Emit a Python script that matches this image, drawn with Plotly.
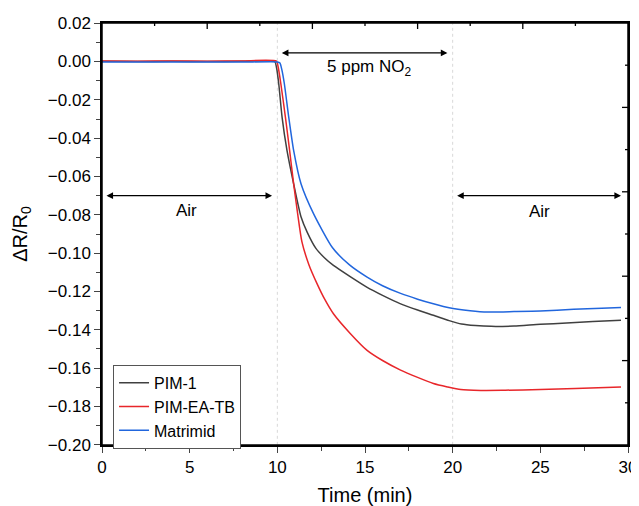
import plotly.graph_objects as go

# ---- data ----
pim1_t = [0, 2, 4, 6, 8, 9.85, 9.95, 10.08, 10.27, 10.55, 10.93, 11.35, 11.7, 12.2, 12.7, 13.2, 14.2,
          15.1, 16.0, 17.0, 18.0, 18.9, 19.8, 20.5, 21.3, 22.2, 23.5, 25.0, 26.5, 28.0, 29.6]
pim1_v = [0.0002, 0.0, 0.0001, 0.0, 0.0001, 0.0, -0.003, -0.0116, -0.029, -0.0464, -0.0638, -0.081,
          -0.089, -0.0975, -0.1025, -0.1064, -0.1125, -0.1177, -0.122, -0.1263, -0.1297, -0.1324,
          -0.1352, -0.137, -0.1378, -0.1382, -0.138, -0.1371, -0.1365, -0.1357, -0.135]

eatb_t = [0, 2, 4, 6, 8, 9.95, 10.05, 10.2, 10.46, 10.7, 10.93, 11.16, 11.4, 11.8, 12.27, 12.7,
          13.2, 14.17, 15.12, 16.0, 17.03, 18.0, 18.9, 19.7, 20.46, 21.6, 23.0, 25.0, 27.0, 29.6]
eatb_v = [0.0003, 0.0002, 0.0003, 0.0002, 0.0003, 0.0002, -0.003, -0.0116, -0.029, -0.0464, -0.0638,
          -0.0795, -0.094, -0.106, -0.116, -0.124, -0.1316, -0.142, -0.1507, -0.156, -0.161, -0.1648,
          -0.168, -0.1698, -0.1712, -0.1716, -0.1715, -0.1712, -0.1706, -0.1698]

matr_t = [0, 2, 4, 6, 8, 10.0, 10.15, 10.25, 10.4, 10.65, 10.93, 11.35, 12.07, 13.15, 14.1, 15.12,
          16.0, 17.03, 18.0, 18.9, 19.8, 21.0, 22.0, 23.5, 25.0, 26.9, 28.5, 29.6]
matr_v = [-0.0003, -0.0002, -0.0003, -0.0002, -0.0003, -0.0002, -0.0008, -0.004, -0.0116, -0.029,
          -0.0464, -0.0638, -0.0795, -0.0972, -0.106, -0.1125, -0.117, -0.121, -0.124, -0.1264,
          -0.1285, -0.130, -0.1307, -0.1305, -0.1302, -0.1293, -0.1288, -0.1284]

series_names = ["PIM-1", "PIM-EA-TB", "Matrimid"]
series_colors = ["#404040", "#e8262a", "#2166dd"]

x_ticks = [0, 5, 10, 15, 20, 25, 30]
y_ticks = [0.02, 0.00, -0.02, -0.04, -0.06, -0.08, -0.10, -0.12, -0.14, -0.16, -0.18, -0.20]

# top / right frame: 10 equal divisions, long ticks on even divisions
frame_divisions = 10

FONT = "Liberation Sans, Arial, sans-serif"

fig = go.Figure()
for t, v, name, col in zip([pim1_t, eatb_t, matr_t], [pim1_v, eatb_v, matr_v], series_names, series_colors):
    fig.add_trace(go.Scatter(x=t, y=v, mode="lines", name=name,
                             line=dict(color=col, width=1.5, shape="spline", smoothing=0.6)))

# faint dotted dividers
for xv in [10, 20]:
    fig.add_shape(type="line", x0=xv, x1=xv, y0=min(y_ticks), y1=max(y_ticks), xref="x", yref="y",
                  line=dict(color="#d8d8d8", width=1, dash="dot"), layer="below")

# frame box
fig.add_shape(type="rect", xref="paper", yref="paper", x0=0, x1=1, y0=0, y1=1,
              line=dict(color="black", width=1.5), layer="above")

# inside ticks on top and right edges
for i in range(1, frame_divisions):
    f = i / frame_divisions
    ln = 6 if i % 2 == 0 else 3
    fig.add_shape(type="line", xref="paper", yref="paper", ysizemode="pixel", yanchor=1,
                  x0=f, x1=f, y0=0, y1=-ln, line=dict(color="black", width=1.3))
    fig.add_shape(type="line", xref="paper", yref="paper", xsizemode="pixel", xanchor=1,
                  y0=f, y1=f, x0=0, x1=-ln, line=dict(color="black", width=1.3))

# double-headed arrows
arrows = [(0.17, 9.7, -0.07), (10.17, 19.7, 0.0045), (20.17, 29.6, -0.07)]
for x0, x1, yv in arrows:
    fig.add_annotation(x=x1, y=yv, ax=x0, ay=yv, xref="x", yref="y", axref="x", ayref="y",
                       text="", showarrow=True, arrowhead=2, arrowside="end+start",
                       arrowsize=1.1, arrowwidth=1.2, arrowcolor="black")

labels = [(4.8, -0.0777, "Air"), (15.2, -0.0036, "5 ppm NO<sub>2</sub>"), (24.97, -0.078, "Air")]
for xv, yv, txt in labels:
    fig.add_annotation(x=xv, y=yv, xref="x", yref="y", text=txt, showarrow=False,
                       font=dict(family=FONT, size=17, color="black"))

# page body has an 8px margin: figure is sized/margined so the plot area lands where the reference has it
fig.update_layout(
    width=639, height=498,
    margin=dict(l=94, r=19, t=15, b=61, autoexpand=False),
    paper_bgcolor="white", plot_bgcolor="white",
    font=dict(family=FONT, size=16, color="black"),
    showlegend=True,
    legend=dict(x=0.021, y=0.19, xanchor="left", yanchor="top",
                bordercolor="#555555", borderwidth=1, bgcolor="white",
                font=dict(family=FONT, size=16), tracegroupgap=0),
    xaxis=dict(range=[min(x_ticks), max(x_ticks)], tick0=0, dtick=x_ticks[1] - x_ticks[0],
               ticks="outside", ticklen=6, tickwidth=1.3,
               minor=dict(dtick=2.5, ticks="outside", ticklen=4, tickwidth=1.2),
               showgrid=False, zeroline=False, showline=True, mirror=True, automargin=False,
               linecolor="black", linewidth=1.5,
               title=dict(text="Time (min)", font=dict(size=20)),
               tickfont=dict(size=17)),
    yaxis=dict(range=[min(y_ticks) - 0.0001, max(y_ticks) + 0.0001], tick0=0,
               dtick=round(y_ticks[0] - y_ticks[1], 4), tickformat=".2f",
               ticks="outside", ticklen=6, tickwidth=1.3,
               minor=dict(dtick=0.01, ticks="outside", ticklen=4, tickwidth=1.2),
               showgrid=False, zeroline=False, showline=True, mirror=True, automargin=False,
               linecolor="black", linewidth=1.5,
               title=dict(text="\u0394R/R<sub>0</sub>", font=dict(size=20)),
               tickfont=dict(size=17)),
)

fig.write_html("out.html", config={"displayModeBar": False})
